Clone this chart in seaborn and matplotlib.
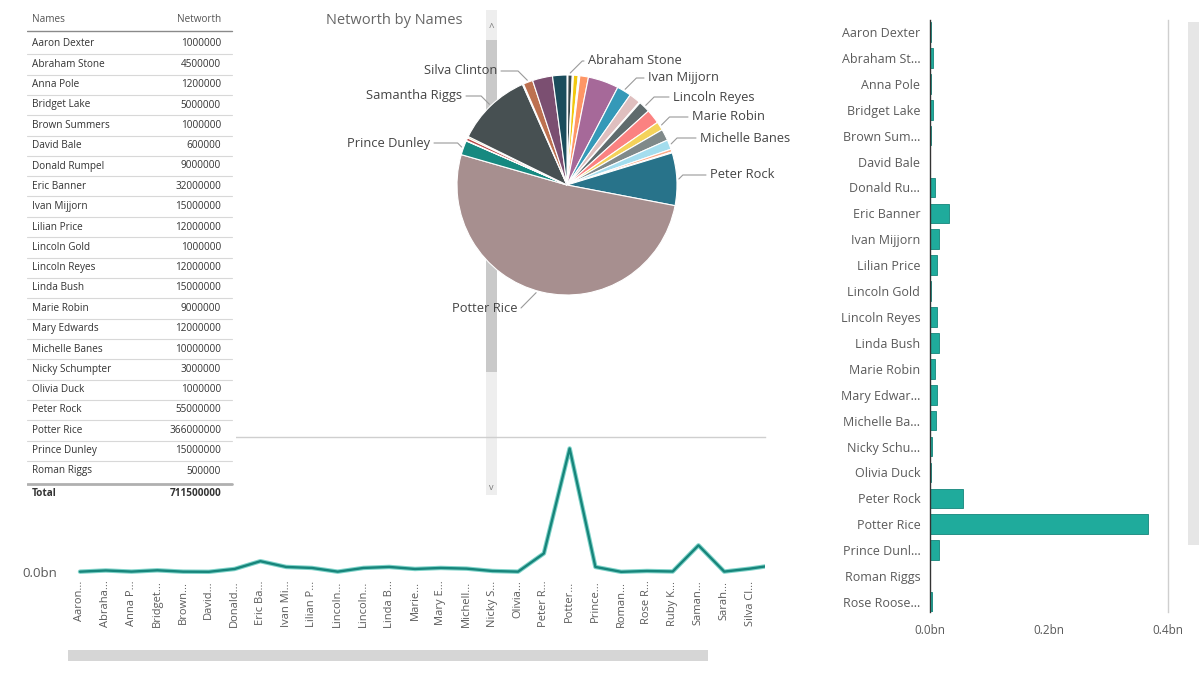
import numpy as np
import pandas as pd
import matplotlib
matplotlib.use("Agg")
import matplotlib.pyplot as plt
import seaborn as sns
from matplotlib.patches import Rectangle
from matplotlib.lines import Line2D
from matplotlib.textpath import TextPath
from matplotlib.font_manager import FontProperties
import matplotlib.patheffects as pe

# ---------------------------------------------------------------- data
names = [
    "Aaron Dexter", "Abraham Stone", "Anna Pole", "Bridget Lake", "Brown Summers",
    "David Bale", "Donald Rumpel", "Eric Banner", "Ivan Mijjorn", "Lilian Price",
    "Lincoln Gold", "Lincoln Reyes", "Linda Bush", "Marie Robin", "Mary Edwards",
    "Michelle Banes", "Nicky Schumpter", "Olivia Duck", "Peter Rock", "Potter Rice",
    "Prince Dunley", "Roman Riggs", "Rose Roosevelt", "Ruby Kane", "Samantha Riggs",
    "Sarah Sloan", "Silva Clinton", "Steve Rogers", "Tony Stark",
]
networth = [
    1000000, 4500000, 1200000, 5000000, 1000000,
    600000, 9000000, 32000000, 15000000, 12000000,
    1000000, 12000000, 15000000, 9000000, 12000000,
    10000000, 3000000, 1000000, 55000000, 366000000,
    15000000, 500000, 3000000, 1500000, 79000000,
    1200000, 10000000, 21000000, 15000000,
]
# rows currently scrolled into view in the table visual
table_rows = names[:22]
# slices carrying a data label in the pie
pie_labelled = ["Abraham Stone", "Ivan Mijjorn", "Lincoln Reyes", "Marie Robin",
                "Michelle Banes", "Peter Rock", "Potter Rice", "Prince Dunley",
                "Samantha Riggs", "Silva Clinton"]
bn_ticks = [0.0, 0.2, 0.4]

# Power BI classic data colours
pbi_colors = ["#01B8AA", "#374649", "#FD625E", "#F2C80F", "#5F6B6D", "#8AD4EB",
              "#FE9666", "#A66999", "#3599B8", "#DFBFBF", "#4AC5BB", "#5F6B6D",
              "#FB8281", "#F4D25A", "#7F898A", "#A4DDEE", "#FDAB89", "#B687AC",
              "#28738A", "#A78F8F", "#168980", "#293537", "#BB4A4A", "#B59525",
              "#475052", "#6A9FB0", "#BD7150", "#7B4F71", "#1B4D5C"]

# ---------------------------------------------------------------- setup
W, H = 1200, 685
sns.set_theme(style="white")
FONT = "Open Sans"
plt.rcParams["font.family"] = [FONT, "DejaVu Sans"]

fig = plt.figure(figsize=(W / 100, H / 100), dpi=100)
fig.patch.set_facecolor("white")


def F(x, y):
    """pixel position (origin top-left) -> figure fraction"""
    return x / W, 1 - y / H


def px_axes(x0, y0, x1, y1):
    return fig.add_axes([x0 / W, 1 - y1 / H, (x1 - x0) / W, (y1 - y0) / H])


def text_px(s, size):
    tp = TextPath((0, 0), s, prop=FontProperties(family=FONT, size=size))
    return tp.get_extents().width * 100 / 72


def fit(s, size, maxpx):
    if text_px(s, size) <= maxpx:
        return s
    k = len(s)
    while k > 1 and text_px(s[:k].rstrip() + "...", size) > maxpx:
        k -= 1
    return s[:k].rstrip() + "..."


def bn(v, _=None):
    return f"{v:.1f}bn"


df = pd.DataFrame({"Names": names,
                   "Networth": np.array(networth, dtype=float) / 1e9,
                   "pos": np.arange(len(names))})
total = int(np.sum(networth))

AX_COL = "#5a5a5a"

# ---------------------------------------------------------------- line chart
ax_line = px_axes(68, 437, 765, 575)
sns.lineplot(data=df, x="pos", y="Networth", ax=ax_line, sort=False,
             color="#17857b", linewidth=1.7,
             path_effects=[pe.Stroke(linewidth=3.2, foreground="#7fd3c9"), pe.Normal()])
step = 25.77
ax_line.set_xticks(df["pos"])
ax_line.set_xticklabels([fit(n, 8, 46) for n in names], rotation=90,
                        fontsize=8, color=AX_COL, va="top", ha="center")
# only the baseline label shows; the upper ones sit under the table visual
ax_line.set_yticks(bn_ticks)
ax_line.set_yticklabels([bn(t) if t == 0 else "" for t in bn_ticks])
ax_line.set_xlim(-12 / step, (765 - 80) / step)
ax_line.set_ylim(-3 / 337.5, 0.4)
ax_line.tick_params(axis="y", length=0, pad=8, labelsize=9.5, labelcolor=AX_COL)
ax_line.tick_params(axis="x", length=0, pad=4)
ax_line.set_xlabel("")
ax_line.set_ylabel("")
for s in ["left", "right", "bottom"]:
    ax_line.spines[s].set_visible(False)
ax_line.spines["top"].set_color("#cfcfcf")
ax_line.spines["top"].set_linewidth(1.0)
ax_line.set_facecolor("none")
ax_line.set_zorder(1)

# ---------------------------------------------------------------- table
ax_tab = px_axes(27, 4, 236, 509)
ax_tab.set_xlim(27, 236)
ax_tab.set_ylim(509, 4)
ax_tab.set_xticks([])
ax_tab.set_yticks([])
for s in ax_tab.spines.values():
    s.set_visible(False)
ax_tab.set_facecolor("white")
ax_tab.set_zorder(3)

TFS = 7.2
ax_tab.text(32, 19, "Names", fontsize=TFS, color="#555555", va="center", ha="left")
ax_tab.text(221, 19, "Networth", fontsize=TFS, color="#555555", va="center", ha="right")
ax_tab.plot([27, 232], [31, 31], color="#8a8a8a", lw=1.0)
row_step = (471 - 44) / 21
for i, n in enumerate(table_rows):
    y = 44 + row_step * i
    v = networth[names.index(n)]
    ax_tab.text(32, y, n, fontsize=TFS, color="#333333", va="center", ha="left")
    ax_tab.text(221, y, f"{v}", fontsize=TFS, color="#333333", va="center", ha="right")
    if i < len(table_rows) - 1:
        ax_tab.plot([27, 232], [y + row_step / 2, y + row_step / 2], color="#d8d8d8", lw=0.8)
ax_tab.plot([27, 232], [484, 484], color="#b0b0b0", lw=2.0)
ax_tab.text(32, 494, "Total", fontsize=TFS, color="#333333", va="center", ha="left",
            fontweight="bold")
ax_tab.text(221, 494, f"{total}", fontsize=TFS, color="#333333", va="center", ha="right",
            fontweight="bold")

# ---------------------------------------------------------------- pie
cx, cy, r = 567, 185, 110
ax_pie = px_axes(cx - r, cy - r, cx + r, cy + r)
ax_pie.pie(networth, colors=pbi_colors[:len(names)], startangle=90, counterclock=False,
           radius=1.0, wedgeprops=dict(edgecolor="white", linewidth=0.8))
ax_pie.set_xlim(-1, 1)
ax_pie.set_ylim(-1, 1)
ax_pie.set_aspect("equal")
ax_pie.set_zorder(2)

fig.text(*F(326, 21), "Networth by Names", fontsize=10.5, color="#666666",
         ha="left", va="center")

cum = np.concatenate([[0], np.cumsum(networth)])
# text placement of each pie label: (x, y, side, optional anchor angle)
label_pos = {
    "Abraham Stone": (588, 61, "r", None),
    "Ivan Mijjorn": (648, 78, "r", None),
    "Lincoln Reyes": (673, 97, "r", None),
    "Marie Robin": (692, 117, "r", None),
    "Michelle Banes": (700, 138, "r", None),
    "Peter Rock": (710, 175, "r", None),
    "Potter Rice": (517, 308, "l", 196),
    "Prince Dunley": (430, 143, "l", None),
    "Samantha Riggs": (462, 96, "l", None),
    "Silva Clinton": (497, 71, "l", None),
}
for n in pie_labelled:
    i = names.index(n)
    tx, ty, side, ang = label_pos[n]
    theta = np.radians(ang if ang is not None else (cum[i] + cum[i + 1]) / 2 / total * 360)
    ax0 = cx + (r + 2) * np.sin(theta)
    ay0 = cy - (r + 2) * np.cos(theta)
    sgn = 1 if side == "r" else -1
    end_x = tx - sgn * 4
    ex = ax0 + sgn * min(abs(ty - ay0), abs(end_x - ax0))
    xs, ys = zip(*[F(ax0, ay0), F(ex, ty), F(end_x, ty)])
    fig.add_artist(Line2D(xs, ys, color="#9a9a9a", lw=0.8, transform=fig.transFigure))
    fig.text(*F(tx, ty), n, fontsize=9.3, color="#444444",
             ha="left" if side == "r" else "right", va="center")

# pie visual scrollbar
fig.add_artist(Rectangle(F(486, 495), 11 / W, 485 / H, transform=fig.transFigure,
                         facecolor="#eeeeee", edgecolor="none"))
fig.add_artist(Rectangle(F(486, 372), 11 / W, 332 / H, transform=fig.transFigure,
                         facecolor="#c9c9c9", edgecolor="none"))
fig.text(*F(491.5, 29), "^", fontsize=7, color="#777777", ha="center", va="center")
fig.text(*F(491.5, 488), "v", fontsize=6.5, color="#777777", ha="center", va="center")

# line chart horizontal scrollbar
fig.add_artist(Rectangle(F(68, 661), 640 / W, 11 / H, transform=fig.transFigure,
                         facecolor="#d6d6d6", edgecolor="none"))

# ---------------------------------------------------------------- bar chart
ax_bar = px_axes(930, 20, 1168, 612)
sns.barplot(data=df, y="Names", x="Networth", ax=ax_bar, orient="h",
            color="#1fab9c", saturation=1, width=0.76,
            edgecolor="#15867b", linewidth=0.6)
row_h = (602 - 32) / 22
BFS = 9
label_room = text_px("Aaron Dexter", BFS) + 1.5
ax_bar.set_yticks(df["pos"])
ax_bar.set_yticklabels([fit(n, BFS, label_room) for n in names], fontsize=BFS, color=AX_COL)
ax_bar.set_xticks(bn_ticks)
ax_bar.xaxis.set_major_formatter(bn)
ax_bar.set_xlim(0, 0.4)
ax_bar.set_ylim(22 + 10 / row_h, -12 / row_h)
ax_bar.tick_params(axis="y", length=0, pad=7)
ax_bar.tick_params(axis="x", length=0, pad=9, labelsize=8.5, labelcolor=AX_COL)
ax_bar.set_xlabel("")
ax_bar.set_ylabel("")
ax_bar.spines["top"].set_visible(False)
ax_bar.spines["bottom"].set_visible(False)
ax_bar.spines["left"].set_color("#333333")
ax_bar.spines["left"].set_linewidth(1.0)
ax_bar.spines["right"].set_color("#cfcfcf")
ax_bar.spines["right"].set_linewidth(1.0)

# bar chart scrollbar
fig.add_artist(Rectangle(F(1188, 545), 11 / W, 523 / H, transform=fig.transFigure,
                         facecolor="#e6e6e6", edgecolor="none"))

fig.savefig("out.png", dpi=100, facecolor="white")
